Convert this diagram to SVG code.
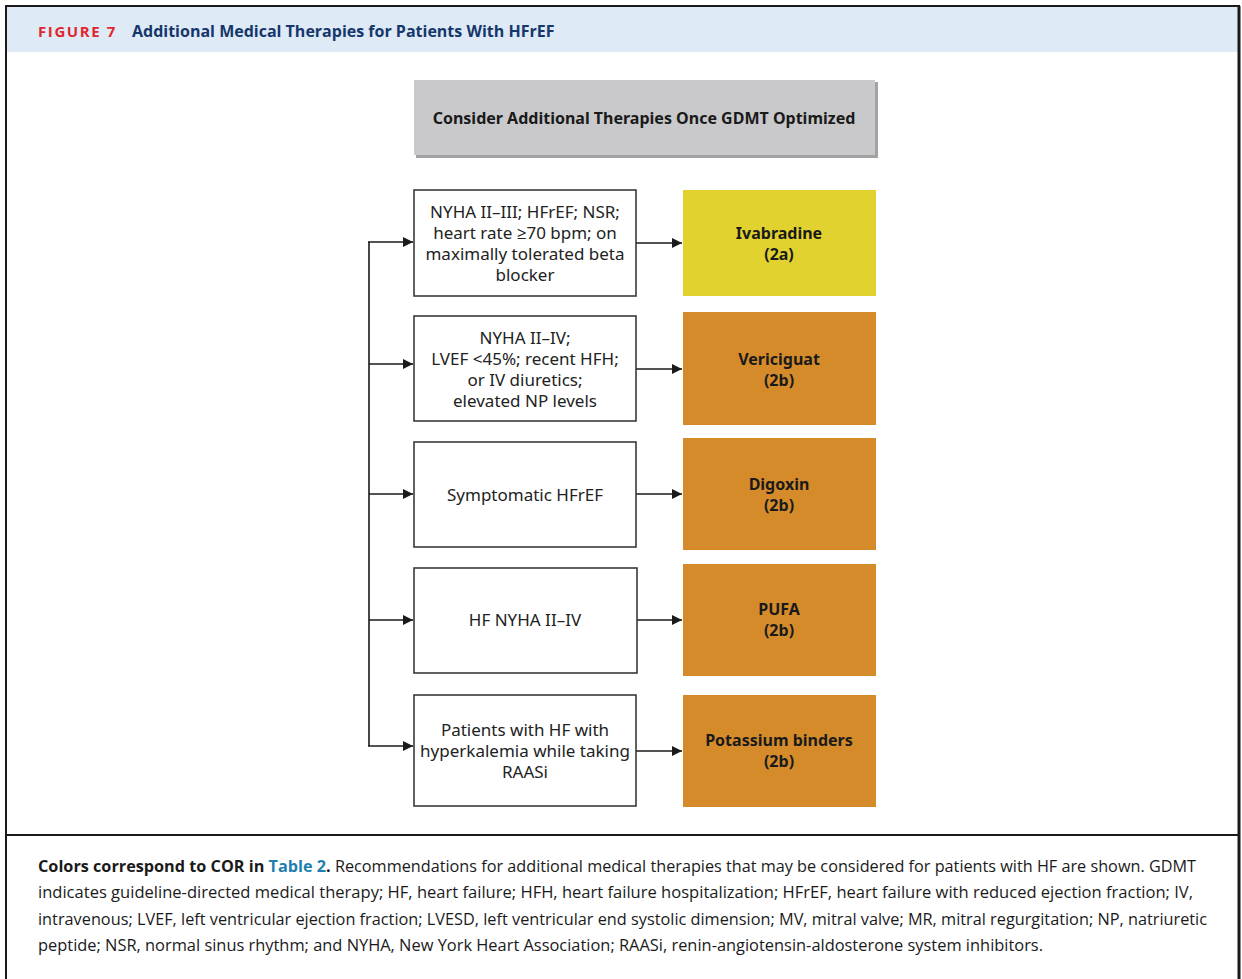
<svg xmlns="http://www.w3.org/2000/svg" width="1242" height="979" viewBox="0 0 1242 979">
<style>
.frame{fill:none;stroke:#1a1a1a;stroke-width:2}
.cond{fill:#fff;stroke:#3a3a3a;stroke-width:1.6}
.ctext{font-family:"Noto Sans","Open Sans",sans-serif;font-size:17px;fill:#222;text-anchor:middle}
.ttext{font-family:"Noto Sans","Open Sans",sans-serif;font-size:16px;font-weight:bold;fill:#1a1a1a;text-anchor:middle}
.y{fill:#e1d22f}
.o{fill:#d68b2b}
.cap{font-family:"Open Sans","Liberation Sans",sans-serif;font-size:15.5px;fill:#1a1a1a}
.conn{fill:none;stroke:#1a1a1a;stroke-width:1.6}
</style>
<defs>
<marker id="ah" viewBox="0 0 10 10" refX="10" refY="5" markerWidth="10" markerHeight="10" markerUnits="userSpaceOnUse" orient="auto">
<path d="M0,0 L10,5 L0,10 z" fill="#1a1a1a"/>
</marker>
</defs>
<rect x="0" y="0" width="1242" height="979" fill="#fff"/>
<rect x="7" y="7" width="1231" height="45" fill="#deeaf6"/>
<path class="frame" d="M6,979 V6 H1239 V979"/>
<line x1="1239" y1="6" x2="1239" y2="979" stroke="#1a1a1a" stroke-width="3"/>
<line x1="6" y1="835" x2="1239" y2="835" stroke="#1a1a1a" stroke-width="2"/>
<g id="title">
<text x="38" y="37" font-family="'Open Sans','Liberation Sans',sans-serif" font-size="15" font-weight="bold" fill="#e0262f" letter-spacing="1.6">FIGURE 7</text>
<text x="132" y="37" font-family="'Open Sans','Liberation Sans',sans-serif" font-size="16" font-weight="bold" fill="#15376b">Additional Medical Therapies for Patients With HFrEF</text>
</g>
<g id="start">
<rect x="416" y="82" width="462" height="76" fill="#a2a2a4"/>
<rect x="414" y="80" width="461" height="75" fill="#c9c9cb"/>
<text x="644" y="124" class="ttext" font-size="16.5">Consider Additional Therapies Once GDMT Optimized</text>
</g>
<g id="connectors">
<line class="conn" x1="369" y1="242" x2="369" y2="746"/>
<line class="conn" x1="368" y1="242" x2="413" y2="242" marker-end="url(#ah)"/>
<line class="conn" x1="369" y1="364" x2="413" y2="364" marker-end="url(#ah)"/>
<line class="conn" x1="369" y1="494" x2="413" y2="494" marker-end="url(#ah)"/>
<line class="conn" x1="369" y1="620" x2="413" y2="620" marker-end="url(#ah)"/>
<line class="conn" x1="368" y1="746" x2="413" y2="746" marker-end="url(#ah)"/>
<line class="conn" x1="636" y1="243" x2="682" y2="243" marker-end="url(#ah)"/>
<line class="conn" x1="636" y1="369" x2="682" y2="369" marker-end="url(#ah)"/>
<line class="conn" x1="636" y1="494" x2="682" y2="494" marker-end="url(#ah)"/>
<line class="conn" x1="636" y1="620" x2="682" y2="620" marker-end="url(#ah)"/>
<line class="conn" x1="636" y1="751" x2="682" y2="751" marker-end="url(#ah)"/>
</g>
<g id="cond1">
<rect class="cond" x="414" y="190" width="222" height="106"/>
<text class="ctext" x="525" y="218">NYHA II–III; HFrEF; NSR;</text>
<text class="ctext" x="525" y="239">heart rate ≥70 bpm; on</text>
<text class="ctext" x="525" y="260">maximally tolerated beta</text>
<text class="ctext" x="525" y="281">blocker</text>
</g>
<g id="cond2">
<rect class="cond" x="414" y="316" width="222" height="105"/>
<text class="ctext" x="525" y="344">NYHA II–IV;</text>
<text class="ctext" x="525" y="365">LVEF &lt;45%; recent HFH;</text>
<text class="ctext" x="525" y="386">or IV diuretics;</text>
<text class="ctext" x="525" y="407">elevated NP levels</text>
</g>
<g id="cond3">
<rect class="cond" x="414" y="442" width="222" height="105"/>
<text class="ctext" x="525" y="501">Symptomatic HFrEF</text>
</g>
<g id="cond4">
<rect class="cond" x="414" y="568" width="223" height="105"/>
<text class="ctext" x="525" y="626">HF NYHA II–IV</text>
</g>
<g id="cond5">
<rect class="cond" x="414" y="695" width="222" height="111"/>
<text class="ctext" x="525" y="736">Patients with HF with</text>
<text class="ctext" x="525" y="757">hyperkalemia while taking</text>
<text class="ctext" x="525" y="778">RAASi</text>
</g>
<g id="ivabradine">
<rect class="y" x="683" y="190" width="193" height="106"/>
<text class="ttext" x="779" y="239">Ivabradine</text>
<text class="ttext" x="779" y="260">(2a)</text>
</g>
<g id="vericiguat">
<rect class="o" x="683" y="312" width="193" height="113"/>
<text class="ttext" x="779" y="365">Vericiguat</text>
<text class="ttext" x="779" y="386">(2b)</text>
</g>
<g id="digoxin">
<rect class="o" x="683" y="438" width="193" height="112"/>
<text class="ttext" x="779" y="490">Digoxin</text>
<text class="ttext" x="779" y="511">(2b)</text>
</g>
<g id="pufa">
<rect class="o" x="683" y="564" width="193" height="112"/>
<text class="ttext" x="779" y="615">PUFA</text>
<text class="ttext" x="779" y="636">(2b)</text>
</g>
<g id="potassium">
<rect class="o" x="683" y="695" width="193" height="112"/>
<text class="ttext" x="779" y="746">Potassium binders</text>
<text class="ttext" x="779" y="767">(2b)</text>
</g>
<g id="caption">
<text class="cap" x="38" y="872" textLength="1158" lengthAdjust="spacingAndGlyphs"><tspan font-weight="bold">Colors correspond to COR in </tspan><tspan font-weight="bold" fill="#1f7fb0">Table 2</tspan><tspan font-weight="bold">.</tspan> Recommendations for additional medical therapies that may be considered for patients with HF are shown. GDMT</text>
<text class="cap" x="38" y="898" textLength="1155" lengthAdjust="spacingAndGlyphs">indicates guideline-directed medical therapy; HF, heart failure; HFH, heart failure hospitalization; HFrEF, heart failure with reduced ejection fraction; IV,</text>
<text class="cap" x="38" y="925" textLength="1169" lengthAdjust="spacingAndGlyphs">intravenous; LVEF, left ventricular ejection fraction; LVESD, left ventricular end systolic dimension; MV, mitral valve; MR, mitral regurgitation; NP, natriuretic</text>
<text class="cap" x="38" y="951" textLength="1005" lengthAdjust="spacingAndGlyphs">peptide; NSR, normal sinus rhythm; and NYHA, New York Heart Association; RAASi, renin-angiotensin-aldosterone system inhibitors.</text>
</g>
</svg>
